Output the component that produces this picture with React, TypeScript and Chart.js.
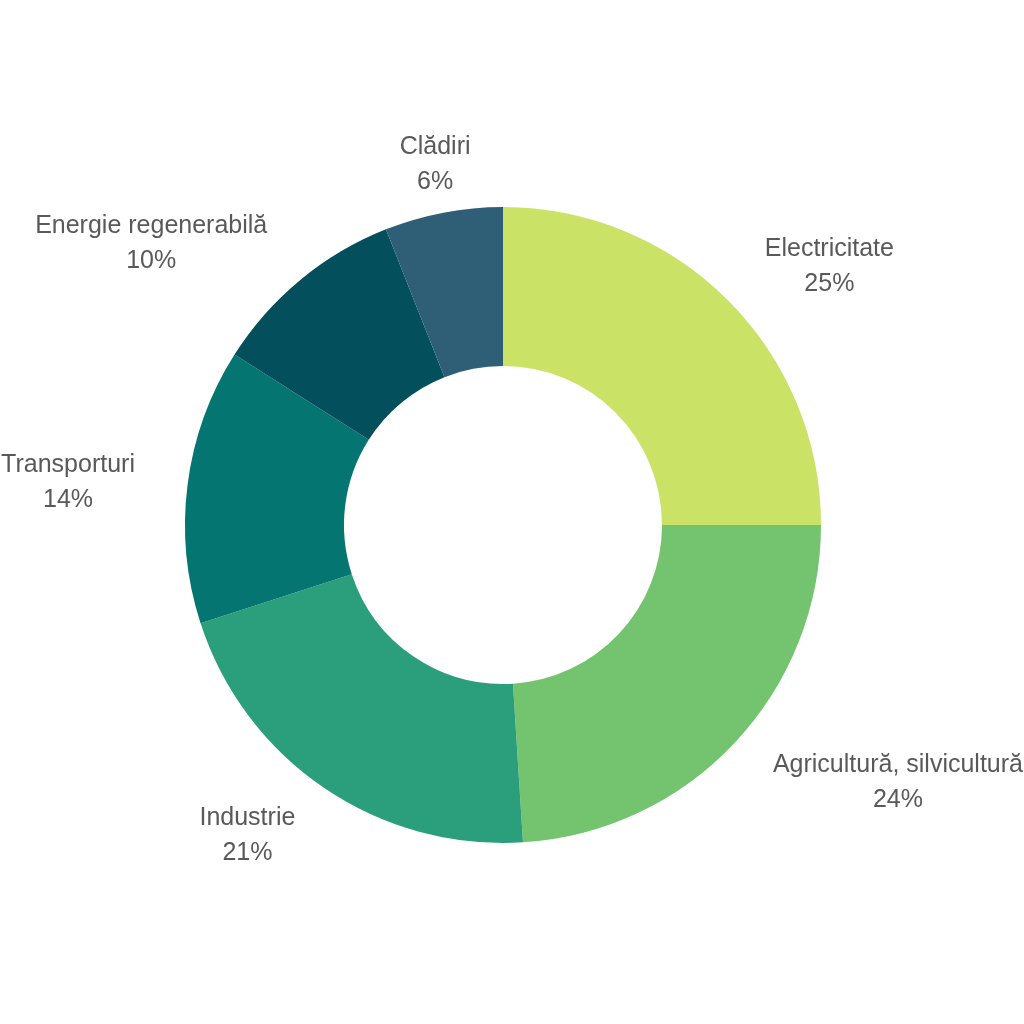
import React, { useEffect, useRef } from "react";
import { Chart, registerables } from "chart.js";

Chart.register(...registerables);

const categories = [
  "Electricitate",
  "Agricultură, silvicultură",
  "Industrie",
  "Transporturi",
  "Energie regenerabilă",
  "Clădiri",
];
const values = [25, 24, 21, 14, 10, 6];
const colors = ["#cae266", "#74c46f", "#2b9e7b", "#047571", "#034f5c", "#2e5f77"];

const FONT = "'Liberation Sans', Arial, sans-serif";

const outsideLabels = {
  id: "outsideLabels",
  afterDatasetsDraw(chart: any) {
    const { ctx } = chart;
    const meta = chart.getDatasetMeta(0);
    const data = chart.data.datasets[0].data as number[];
    const total = data.reduce((a, b) => a + b, 0);
    ctx.save();
    ctx.font = `25px ${FONT}`;
    ctx.fillStyle = "#595959";
    ctx.textBaseline = "alphabetic";
    meta.data.forEach((arc: any, i: number) => {
      const { x, y, startAngle, endAngle, outerRadius } = arc.getProps(
        ["x", "y", "startAngle", "endAngle", "outerRadius"],
        true
      );
      const mid = (startAngle + endAngle) / 2;
      const r = outerRadius + 53;
      const c = Math.cos(mid);
      const ax = x + c * (r + 2) - Math.sign(c) * 2;
      const ay = y + Math.sin(mid) * r;
      const line1 = chart.data.labels[i] as string;
      const line2 = Math.round((data[i] / total) * 100) + "%";
      const w = Math.max(ctx.measureText(line1).width, ctx.measureText(line2).width);
      let cx: number;
      if (Math.abs(c) < 0.25) cx = ax;
      else if (c > 0) cx = ax + w / 2;
      else cx = ax - w / 2;
      ctx.textAlign = "center";
      ctx.fillText(line1, cx, ay - 6.5);
      ctx.fillText(line2, cx, ay + 28.5);
    });
    ctx.restore();
  },
};

export default function App() {
  const ref = useRef<HTMLCanvasElement>(null);
  useEffect(() => {
    document.body.style.margin = "0";
    const chart = new Chart(ref.current!, {
      type: "doughnut",
      data: {
        labels: categories,
        datasets: [
          {
            data: values,
            backgroundColor: colors,
            borderWidth: 0,
          },
        ],
      },
      options: {
        responsive: false,
        animation: false,
        cutout: "50%",
        layout: { padding: { top: 207, bottom: 181, left: 185, right: 203 } },
        plugins: {
          legend: { display: false },
          tooltip: { enabled: false },
        },
      },
      plugins: [outsideLabels],
    });
    return () => chart.destroy();
  }, []);
  return (
    <div style={{ width: 1024, height: 1024, background: "#fff" }}>
      <canvas ref={ref} width={1024} height={1024} />
    </div>
  );
}
